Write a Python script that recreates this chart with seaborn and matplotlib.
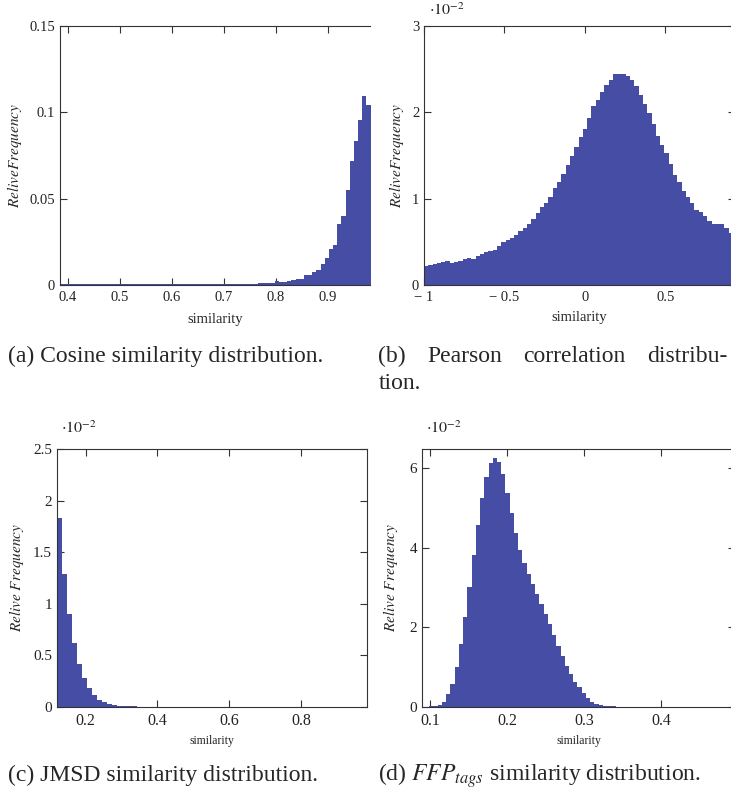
import numpy as np
import pandas as pd
import seaborn as sns
import matplotlib.pyplot as plt

# bin layout of each histogram (start, width) and the bar heights
cos_start, cos_width = 0.382, 0.008
cos_vals = [0.0003, 0.0003, 0.0003, 0.0003, 0.0003, 0.0004, 0.0004, 0.0004, 0.0003, 0.0003,
            0.0003, 0.0003, 0.0003, 0.0003, 0.0003, 0.0003, 0.0003, 0.0003, 0.0003, 0.0003,
            0.0003, 0.0003, 0.0003, 0.0003, 0.0003, 0.0003, 0.0003, 0.0003, 0.0003, 0.0003,
            0.0003, 0.0003, 0.0003, 0.0003, 0.0003, 0.0003, 0.0003, 0.0003, 0.0003, 0.0003,
            0.0004, 0.0004, 0.0004, 0.0005, 0.0006, 0.0006, 0.0008, 0.0008, 0.0009, 0.0009,
            0.0010, 0.0012, 0.0022, 0.0015, 0.0018, 0.0023, 0.0030, 0.0034, 0.0036, 0.0056,
            0.0056, 0.0077, 0.0087, 0.0120, 0.0155, 0.0207, 0.0233, 0.0351, 0.0400, 0.0550,
            0.0718, 0.0834, 0.0955, 0.1094, 0.1040]

pear_start, pear_width = -1.0, 2 / 75
pear_vals = [0.22, 0.23, 0.24, 0.25, 0.27, 0.28, 0.26, 0.27, 0.28, 0.30,
             0.31, 0.30, 0.34, 0.36, 0.38, 0.39, 0.41, 0.45, 0.50, 0.52,
             0.55, 0.58, 0.62, 0.66, 0.71, 0.77, 0.83, 0.90, 0.95, 1.02,
             1.12, 1.19, 1.29, 1.39, 1.49, 1.60, 1.71, 1.81, 1.94, 2.07,
             2.14, 2.23, 2.32, 2.37, 2.44, 2.44, 2.44, 2.42, 2.37, 2.31,
             2.20, 2.10, 1.99, 1.86, 1.73, 1.62, 1.53, 1.40, 1.27, 1.19,
             1.09, 1.02, 0.95, 0.87, 0.85, 0.80, 0.74, 0.71, 0.71, 0.71,
             0.66, 0.60, 0.57, 0.54, 0.50]

jmsd_start, jmsd_width = 0.1075, 0.0139
jmsd_vals = [3.20, 1.83, 1.29, 0.90, 0.62, 0.42, 0.28, 0.18, 0.12, 0.07,
             0.045, 0.028, 0.017, 0.010, 0.007, 0.005, 0.005, 0.004, 0.004, 0.004,
             0.004, 0.004, 0.004, 0.004, 0.004, 0.004, 0.004, 0.004, 0.004, 0.004,
             0.004, 0.004, 0.004, 0.004, 0.004, 0.004, 0.004, 0.004, 0.004, 0.004,
             0.004, 0.004, 0.004, 0.004, 0.004, 0.004, 0.004, 0.004, 0.004, 0.004,
             0.004, 0.004, 0.004, 0.004, 0.004, 0.004, 0.004, 0.004, 0.004, 0.004,
             0.004, 0.004, 0.004]

ffp_start, ffp_width = 0.088, 0.0055
ffp_vals = [0.01, 0.01, 0.02, 0.03, 0.06, 0.13, 0.32, 0.59, 1.01, 1.57,
            2.26, 3.02, 3.82, 4.57, 5.24, 5.77, 6.13, 6.26, 6.16, 5.84,
            5.38, 4.86, 4.38, 3.95, 3.62, 3.34, 3.08, 2.83, 2.58, 2.33,
            2.08, 1.81, 1.54, 1.28, 1.04, 0.83, 0.64, 0.49, 0.34, 0.22,
            0.13, 0.08, 0.05, 0.03, 0.02, 0.015, 0.01, 0.01, 0.01, 0.01,
            0.01, 0.01, 0.01, 0.01, 0.01, 0.01, 0.01, 0.01, 0.01, 0.01,
            0.01, 0.01, 0.01, 0.01, 0.01, 0.01, 0.01, 0.01, 0.01, 0.01,
            0.01, 0.01, 0.01, 0.01, 0.01]

captions = ["(a) Cosine similarity distribution.",
            "(c) JMSD similarity distribution.",
            r"(d) $FFP_{tags}$ similarity distribution."]
caption_b = ["(b)", "Pearson", "correlation", "distribu-"]

BLUE = "#454da5"
W, H = 731, 791

sns.set_style("ticks")
plt.rcParams['font.family'] = ['Liberation Serif', 'DejaVu Serif']
plt.rcParams['mathtext.fontset'] = 'stix'
plt.rcParams['axes.linewidth'] = 0.8
plt.rcParams['axes.edgecolor'] = '#333333'

fig = plt.figure(figsize=(W / 100, H / 100), dpi=100)


def px_axes(l, t, r, b):
    return fig.add_axes([l / W, 1 - b / H, (r - l) / W, (b - t) / H])


def draw_hist(ax, start, width, vals):
    n = len(vals)
    df = pd.DataFrame({"x": start + width * (np.arange(n) + 0.5), "w": vals})
    sns.histplot(data=df, x="x", weights="w", binwidth=width,
                 binrange=(start, start + n * width), element="step", fill=True,
                 color=BLUE, alpha=1, linewidth=0, ax=ax)


def style(ax, xsize, ysize, right=True):
    ax.tick_params(direction='in', length=4.8, width=0.8, top=True, right=right,
                   pad=3.5, color='#333333', labelcolor='#222222')
    ax.tick_params(axis='x', labelsize=xsize, pad=4.5)
    ax.tick_params(axis='y', labelsize=ysize)
    ax.spines['right'].set_visible(right)


ax_a = px_axes(60, 26, 370, 285)
draw_hist(ax_a, cos_start, cos_width, cos_vals)
ax_a.set_xlim(0.385, 0.981)
ax_a.set_ylim(0, 0.15)
ax_a.set_xticks([0.4, 0.5, 0.6, 0.7, 0.8, 0.9])
ax_a.set_xticklabels(["0.4", "0.5", "0.6", "0.7", "0.8", "0.9"])
ax_a.set_yticks([0, 0.05, 0.1, 0.15])
ax_a.set_yticklabels(["0", "0.05", "0.1", "0.15"])
ax_a.set_xlabel("similarity", fontsize=10.5, labelpad=6)
ax_a.set_ylabel(r"$ReliveFrequency$", fontsize=11, labelpad=4)
style(ax_a, 10.5, 10.5, right=False)

ax_b = px_axes(424, 26, 735, 285)
draw_hist(ax_b, pear_start, pear_width, pear_vals)
ax_b.set_xlim(-1, 0.932)
ax_b.set_ylim(0, 3)
ax_b.set_xticks([-1, -0.5, 0, 0.5])
ax_b.set_xticklabels(["\u2212 1", "\u2212 0.5", "0", "0.5"])
ax_b.set_yticks([0, 1, 2, 3])
ax_b.set_yticklabels(["0", "1", "2", "3"])
ax_b.set_xlabel("similarity", fontsize=10.5, labelpad=5)
ax_b.set_ylabel(r"$ReliveFrequency$", fontsize=11, labelpad=4)
style(ax_b, 10.5, 10.5)

ax_c = px_axes(57, 449, 367, 707)
draw_hist(ax_c, jmsd_start, jmsd_width, jmsd_vals)
ax_c.set_xlim(0.1205, 0.983)
ax_c.set_ylim(0, 2.5)
ax_c.set_xticks([0.2, 0.4, 0.6, 0.8])
ax_c.set_xticklabels(["0.2", "0.4", "0.6", "0.8"])
ax_c.set_yticks([0, 0.5, 1, 1.5, 2, 2.5])
ax_c.set_yticklabels(["0", "0.5", "1", "1.5", "2", "2.5"])
ax_c.set_xlabel("similarity", fontsize=8.5, labelpad=4)
ax_c.set_ylabel(r"$Relive\ Frequency$", fontsize=11, labelpad=5)
style(ax_c, 11.5, 11)

ax_d = px_axes(422, 449, 735, 707)
draw_hist(ax_d, ffp_start, ffp_width, ffp_vals)
ax_d.set_xlim(0.0896, 0.496)
ax_d.set_ylim(0, 6.48)
ax_d.set_xticks([0.1, 0.2, 0.3, 0.4])
ax_d.set_xticklabels(["0.1", "0.2", "0.3", "0.4"])
ax_d.set_yticks([0, 2, 4, 6])
ax_d.set_yticklabels(["0", "2", "4", "6"])
ax_d.set_xlabel("similarity", fontsize=8.5, labelpad=4)
ax_d.set_ylabel(r"$Relive\ Frequency$", fontsize=11, labelpad=7)
style(ax_d, 11.5, 11)

# scale factor labels
for x, y in [(429, 15), (61, 433), (426, 433)]:
    fig.text(x / W, 1 - y / H, r"$\cdot 10^{-2}$", fontsize=11.5, color='#222222')

# captions
cap_size = 17
fig.text(8 / W, 1 - 781 / H, captions[1], fontsize=cap_size)
fig.text(378 / W, 1 - 781 / H, captions[2], fontsize=cap_size)
fig.text(8 / W, 1 - 362 / H, captions[0], fontsize=cap_size)
fig.text(379 / W, 1 - 389 / H, "tion.", fontsize=cap_size)

# justified first line of caption (b)
words = [fig.text(0, 1 - 362 / H, w, fontsize=cap_size) for w in caption_b]
fig.canvas.draw()
renderer = fig.canvas.get_renderer()
widths = [t.get_window_extent(renderer).width for t in words]
gap = (727 - 378 - sum(widths)) / (len(words) - 1)
x = 378
for t, w in zip(words, widths):
    t.set_x(x / W)
    x += w + gap

fig.savefig("out.png", dpi=100)
